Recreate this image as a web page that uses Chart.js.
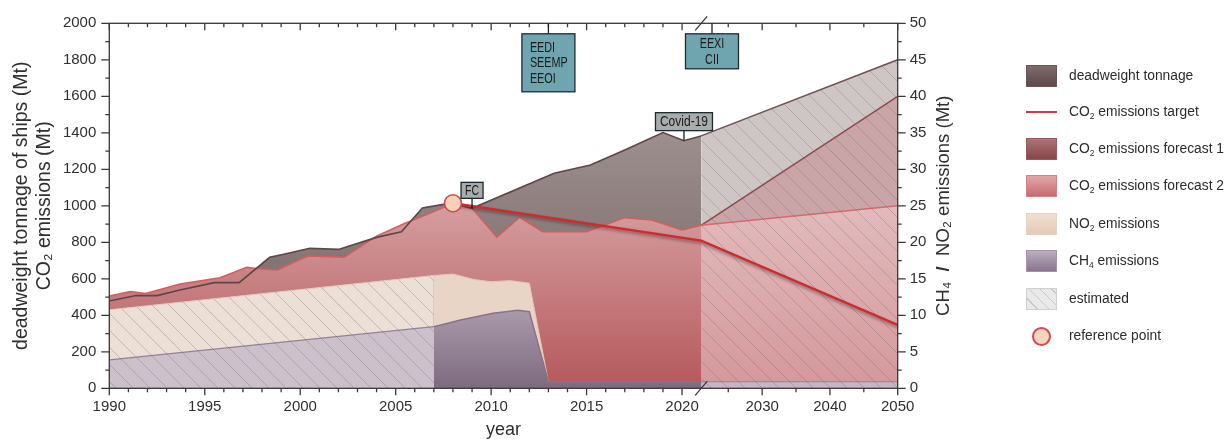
<!DOCTYPE html>
<html>
<head>
<meta charset="utf-8">
<script src="https://cdn.jsdelivr.net/npm/chart.js@4.4.0/dist/chart.umd.min.js"></script>
<style>
  html, body { margin: 0; padding: 0; background: #fff; }
  #wrap { position: relative; width: 1227px; height: 444px; }
  #legend { position: absolute; left: 1026px; top: 0; font-family: 'Liberation Sans', Arial, sans-serif; font-size: 13.8px; color: #2b2b2b; }
  .item { position: absolute; left: 0; width: 200px; height: 24px; }
  .sw { position: absolute; left: 0; top: 1px; width: 31px; height: 22px; box-sizing: border-box; }
  .lab { position: absolute; left: 43px; top: 3px; white-space: nowrap; line-height: 17px; }
  sub { font-size: 8.5px; vertical-align: -3px; line-height: 0; }
</style>
</head>
<body>
<div id="wrap">
  <canvas id="chart" width="1227" height="444"></canvas>
  <div id="legend">
    <div class="item" style="top:64px"><div class="sw" style="background:linear-gradient(#7f6b6a,#5d4949);border:1px solid #6a5656"></div><div class="lab">deadweight tonnage</div></div>
    <div class="item" style="top:100px"><div class="sw" style="top:11px;height:2px;background:#d23b3d"></div><div class="lab">CO<sub>2</sub> emissions target</div></div>
    <div class="item" style="top:137px"><div class="sw" style="background:linear-gradient(#ab7476,#88454a);border:1px solid #9a5a5d"></div><div class="lab">CO<sub>2</sub> emissions forecast 1</div></div>
    <div class="item" style="top:174px"><div class="sw" style="background:linear-gradient(#e2a6a8,#c86b6e);border:1px solid #d08487"></div><div class="lab">CO<sub>2</sub> emissions forecast 2</div></div>
    <div class="item" style="top:212px"><div class="sw" style="background:linear-gradient(#f1dfcf,#e4cbb7);border:1px solid #e6d2c2"></div><div class="lab">NO<sub>2</sub> emissions</div></div>
    <div class="item" style="top:249px"><div class="sw" style="background:linear-gradient(#bbadbf,#8a768e);border:1px solid #a393a6"></div><div class="lab">CH<sub>4</sub> emissions</div></div>
    <div class="item" style="top:287px"><div class="sw" style="background:repeating-linear-gradient(45deg,#e9e9e9 0px,#e9e9e9 7px,#c9c9c9 7px,#c9c9c9 8px);border:1px solid #cfcfcf"></div><div class="lab">estimated</div></div>
    <div class="item" style="top:324px"><div class="sw" style="left:6px;top:3px;width:19px;height:19px;border-radius:50%;background:#f8d5bb;border:2px solid #d24a4c"></div><div class="lab">reference point</div></div>
  </div>
</div>
<script>
// x axis is broken at 2021: later years are squeezed
const xBreak = 2021;
const xSqueeze = 0.355;
function xPos(year) { return year <= xBreak ? year : xBreak + (year - xBreak) * xSqueeze; }

const xTickYears = [1990, 1995, 2000, 2005, 2010, 2015, 2020, 2030, 2040, 2050];

// deadweight tonnage (Mt, left axis)
const dwtYears = [1990, 1991.4, 1992.5, 1993.7, 1995.5, 1996.8, 1998.4, 1999.2, 2000.5, 2002, 2004, 2005.3, 2006.4, 2007.5, 2008, 2009, 2013.3, 2015.2, 2017, 2019, 2020.1, 2021];
const dwtValues = [478, 508, 508, 539, 579, 579, 718, 736, 767, 761, 827, 858, 988, 1008, 1014, 986, 1178, 1224, 1306, 1401, 1357, 1383];
const dwtEstYears = [2021, 2050];
const dwtEstValues = [1383, 1800];

// CO2 emissions (Mt, left axis)
const co2Years = [1990, 1991.1, 1991.9, 1993.7, 1995.8, 1997.2, 1997.7, 1998.8, 2000.4, 2002.3, 2004, 2005.4, 2007, 2008, 2009, 2010.3, 2011.5, 2012.7, 2015, 2017, 2018.4, 2020, 2021];
const co2Values = [506, 530, 520, 571, 606, 663, 657, 648, 725, 718, 834, 900, 968, 1014, 986, 828, 937, 858, 858, 935, 922, 867, 893];
const forecast1Years = [2021, 2050];
const forecast1Values = [893, 1600];
const forecast2Years = [2021, 2050];
const forecast2Values = [893, 1000];
const targetYears = [2008, 2021, 2050];
const targetValues = [1014, 809, 347];
const refYear = 2008;
const refValue = 1014;

// NO2 and CH4 emissions (Mt, right axis)
const no2EstYears = [1990, 2007];
const no2EstValues = [10.75, 15.45];
const no2Years = [2007, 2008, 2009.1, 2010, 2011, 2012, 2013];
const no2Values = [15.45, 15.65, 14.9, 14.6, 14.75, 14.4, 0.9];
const ch4EstYears = [1990, 2007];
const ch4EstValues = [3.9, 8.44];
const ch4Years = [2007, 2008.4, 2010.1, 2011.4, 2012, 2013, 2021];
const ch4Values = [8.44, 9.35, 10.27, 10.7, 10.5, 0.9, 0.9];
const ch4LateYears = [2021, 2050];
const ch4LateValues = [0.9, 0.9];

// event labels: regulations hang from the top axis, events sit on the dwt line
const eventLabels = [['EEDI', 'SEEMP', 'EEOI'], ['EEXI', 'CII'], ['FC'], ['Covid-19']];
const eventYears = [2013, 2022.6, 2009, 2020.1];
const eventValues = [null, null, 986, 1357];

const font = "'Liberation Sans', Arial, sans-serif";
Chart.defaults.font.family = font;
Chart.defaults.color = '#2f2f2f';

const canvas = document.getElementById('chart');
const ctx2d = canvas.getContext('2d');

function pts(xs, ys) { return xs.map((x, i) => ({ x: xPos(x), y: ys[i] })); }

function grad(axis, vTop, cTop, vBot, cBot) {
  return (c) => {
    const chart = c.chart;
    if (!chart.chartArea) return cTop;
    const s = chart.scales[axis];
    const g = chart.ctx.createLinearGradient(0, s.getPixelForValue(vTop), 0, s.getPixelForValue(vBot));
    g.addColorStop(0, cTop);
    g.addColorStop(1, cBot);
    return g;
  };
}

const tile = document.createElement('canvas');
tile.width = 17; tile.height = 17;
const tg = tile.getContext('2d');
tg.strokeStyle = 'rgba(105,95,95,0.30)';
tg.lineWidth = 1;
tg.beginPath(); tg.moveTo(-2, -2); tg.lineTo(19, 19); tg.stroke();
const hatch = ctx2d.createPattern(tile, 'repeat');

function area(label, xs, ys, axis, bg, border, bw, order) {
  return {
    label, data: pts(xs, ys), yAxisID: axis, order,
    backgroundColor: bg, borderColor: border || 'rgba(0,0,0,0)', borderWidth: bw || 0,
    fill: 'origin', pointRadius: 0, tension: 0
  };
}

const datasets = [
  { label: 'reference point', data: [{ x: xPos(refYear), y: refValue }], yAxisID: 'y', order: 0,
    showLine: false, pointRadius: 8.5, pointBackgroundColor: '#f7d2b7', pointBorderColor: '#d24a4c', pointBorderWidth: 1.6 },
  { label: 'CO₂ emissions target', data: pts(targetYears, targetValues), yAxisID: 'y', order: 1,
    borderColor: '#cf2a2c', borderWidth: 2.4, fill: false, pointRadius: 0, tension: 0 },
  area('hatch early', no2EstYears, no2EstValues, 'y1', hatch, null, 0, 2),
  area('hatch late', dwtEstYears, dwtEstValues, 'y', hatch, null, 0, 3),
  area('CH₄ emissions', ch4Years, ch4Values, 'y1', grad('y1', 11, 'rgb(170,155,172)', 0, 'rgb(126,106,127)'), 'rgb(138,112,142)', 1.5, 4),
  area('CH₄ estimated', ch4EstYears, ch4EstValues, 'y1', 'rgb(204,192,202)', 'rgb(150,128,152)', 1.2, 5),
  area('CH₄ late', ch4LateYears, ch4LateValues, 'y1', 'rgb(196,182,197)', 'rgb(150,128,152)', 1, 6),
  area('NO₂ emissions', no2Years, no2Values, 'y1', 'rgb(233,213,197)', 'rgb(226,200,182)', 1, 7),
  area('NO₂ estimated', no2EstYears, no2EstValues, 'y1', 'rgb(236,223,214)', 'rgb(226,204,188)', 1, 8),
  { label: 'dwt line', data: pts(dwtYears, dwtValues), yAxisID: 'y', order: 8.5,
    borderColor: '#5e4647', borderWidth: 1.6, fill: false, pointRadius: 0, tension: 0 },
  area('CO₂ emissions', co2Years, co2Values, 'y', grad('y', 1014, 'rgb(213,158,160)', 0, 'rgb(181,88,91)'), 'rgb(214,92,94)', 1.5, 9),
  area('CO₂ emissions forecast 2', forecast2Years, forecast2Values, 'y', grad('y', 1000, 'rgb(226,187,189)', 0, 'rgb(212,152,155)'), 'rgb(216,104,107)', 1.5, 10),
  area('CO₂ emissions forecast 1', forecast1Years, forecast1Values, 'y', 'rgb(201,165,168)', 'rgb(140,72,76)', 1.5, 11),
  area('deadweight tonnage', dwtYears, dwtValues, 'y', grad('y', 1400, 'rgb(156,143,142)', 450, 'rgb(126,108,108)'), null, 0, 12),
  area('deadweight tonnage estimated', dwtEstYears, dwtEstValues, 'y', 'rgb(206,198,197)', '#6e5152', 1.5, 13)
];

const shadowPlugin = {
  id: 'lineShadow',
  beforeDatasetDraw(chart, args) {
    if (chart.data.datasets[args.index].label === 'CO₂ emissions target') {
      const c = chart.ctx;
      c.save();
      c.shadowColor = 'rgba(50,20,20,0.45)';
      c.shadowBlur = 3;
      c.shadowOffsetY = 2;
    }
  },
  afterDatasetDraw(chart, args) {
    if (chart.data.datasets[args.index].label === 'CO₂ emissions target') chart.ctx.restore();
  }
};

// box look for each event label
const boxStyles = [
  { w: 53, h: 58, align: 'left', fill: '#6fa5af', sx: 0.72 },
  { w: 53, h: 35, align: 'center', fill: '#6fa5af', sx: 0.72 },
  { w: 22, h: 16, align: 'center', fill: '#a8acad', sx: 0.7 },
  { w: 57, h: 18, align: 'center', fill: '#a8acad', sx: 0.8 }
];

function drawBox(c, left, top, lines, st) {
  c.fillStyle = st.fill;
  c.fillRect(left, top, st.w, st.h);
  c.strokeStyle = '#1f2a2e';
  c.lineWidth = 1.3;
  c.strokeRect(left, top, st.w, st.h);
  c.fillStyle = '#1a1a1a';
  c.font = '15px ' + font;
  c.textBaseline = 'middle';
  const step = 15.3;
  const y0 = top + st.h / 2 - (lines.length - 1) * step / 2;
  lines.forEach((t, i) => {
    c.save();
    if (st.align === 'left') { c.translate(left + 8, y0 + i * step + 0.5); c.textAlign = 'left'; }
    else { c.translate(left + st.w / 2, y0 + i * step + 0.5); c.textAlign = 'center'; }
    c.scale(st.sx, 1);
    c.fillText(t, 0, 0);
    c.restore();
  });
}

const framePlugin = {
  id: 'frame',
  afterDatasetsDraw(chart) {
    const { ctx: c, chartArea: a, scales: { x, y, y1 } } = chart;
    c.save();
    c.strokeStyle = '#383838';
    c.lineWidth = 1.3;
    c.strokeRect(a.left, a.top, a.right - a.left, a.bottom - a.top);

    // x ticks, bottom (outward) and top (inward)
    const xt = [];
    for (let yr = 1990; yr <= 2020; yr++) xt.push([yr, yr % 5 === 0]);
    for (let yr = 2025; yr <= 2050; yr += 5) xt.push([yr, yr % 10 === 0]);
    c.beginPath();
    xt.forEach(([yr, major]) => {
      const px = x.getPixelForValue(xPos(yr));
      const len = major ? 7 : 4;
      c.moveTo(px, a.bottom); c.lineTo(px, a.bottom + len);
      c.moveTo(px, a.top); c.lineTo(px, a.top + len);
    });
    // left ticks
    for (let v = 0; v <= 2000; v += 100) {
      const py = y.getPixelForValue(v);
      c.moveTo(a.left, py); c.lineTo(a.left - (v % 200 === 0 ? 8 : 4), py);
    }
    // right ticks
    for (let v = 0; v <= 50; v += 2.5) {
      const py = y1.getPixelForValue(v);
      c.moveTo(a.right, py); c.lineTo(a.right + (v % 5 === 0 ? 8 : 4), py);
    }
    c.stroke();

    // axis break marks
    const bx = x.getPixelForValue(xPos(xBreak));
    c.beginPath();
    c.moveTo(bx - 6, a.top + 7); c.lineTo(bx + 6, a.top - 7);
    c.moveTo(bx - 6, a.bottom + 7); c.lineTo(bx + 6, a.bottom - 7);
    c.stroke();

    // event labels
    eventLabels.forEach((lines, i) => {
      const st = boxStyles[i];
      const px = x.getPixelForValue(xPos(eventYears[i]));
      c.strokeStyle = '#1f1f1f';
      c.lineWidth = 1.3;
      if (eventValues[i] === null) {
        const boxTop = a.top + 10.5;
        c.beginPath(); c.moveTo(px, a.top); c.lineTo(px, boxTop); c.stroke();
        drawBox(c, px - st.w / 2, boxTop, lines, st);
      } else {
        const py = y.getPixelForValue(eventValues[i]);
        const boxBottom = py - 10;
        c.beginPath(); c.moveTo(px, py); c.lineTo(px, boxBottom); c.stroke();
        drawBox(c, px - st.w / 2, boxBottom - st.h, lines, st);
      }
    });

    // right axis title, read bottom to top
    c.translate(a.right + 46, (a.top + a.bottom) / 2);
    c.rotate(-Math.PI / 2);
    c.fillStyle = '#2f2f2f';
    c.textBaseline = 'middle';
    c.textAlign = 'left';
    const parts = [['CH₄  ', '18.5px ' + font], ['/', 'bold 18.5px ' + font], ['  NO₂ emissions (Mt)', '18.5px ' + font]];
    let total = 0;
    parts.forEach(p => { c.font = p[1]; total += c.measureText(p[0]).width; });
    let cx = -total / 2;
    parts.forEach(p => { c.font = p[1]; c.fillText(p[0], cx, 0); cx += c.measureText(p[0]).width; });
    c.restore();
  }
};

new Chart(canvas, {
  type: 'line',
  data: { datasets },
  plugins: [shadowPlugin, framePlugin],
  options: {
    responsive: false,
    animation: false,
    devicePixelRatio: 1,
    layout: { padding: { left: 0, top: 23.3, right: 269.3, bottom: 0 } },
    plugins: { legend: { display: false }, tooltip: { enabled: false } },
    scales: {
      x: {
        type: 'linear', min: xPos(1990), max: xPos(2050),
        afterBuildTicks: s => { s.ticks = xTickYears.map(v => ({ value: xPos(v) })); },
        ticks: { autoSkip: false, maxRotation: 0, padding: 3, font: { size: 15 },
                 callback: (v, i) => String(xTickYears[i]) },
        grid: { display: false, drawTicks: true, tickLength: 7 },
        border: { display: false },
        title: { display: true, text: 'year', font: { size: 18 }, padding: { top: 0, bottom: 3 } },
        afterFit: s => { s.height = 55.7; }
      },
      y: {
        position: 'left', min: 0, max: 2000,
        ticks: { stepSize: 200, padding: 5, font: { size: 15 }, callback: v => String(v) },
        grid: { display: false, drawTicks: true, tickLength: 8 },
        border: { display: false },
        title: { display: true, text: ['deadweight tonnage of ships (Mt)', 'CO₂ emissions (Mt)'],
                 font: { size: 19.5, lineHeight: 1.195 }, padding: { top: 10, bottom: 0 } },
        afterFit: s => { s.width = 109.3; }
      },
      y1: {
        position: 'right', min: 0, max: 50,
        ticks: { stepSize: 5, padding: 4, font: { size: 15 }, callback: v => String(v) },
        grid: { display: false, drawTicks: true, tickLength: 8 },
        border: { display: false },
        afterFit: s => { s.width = 60; }
      }
    }
  }
});
</script>
</body>
</html>
